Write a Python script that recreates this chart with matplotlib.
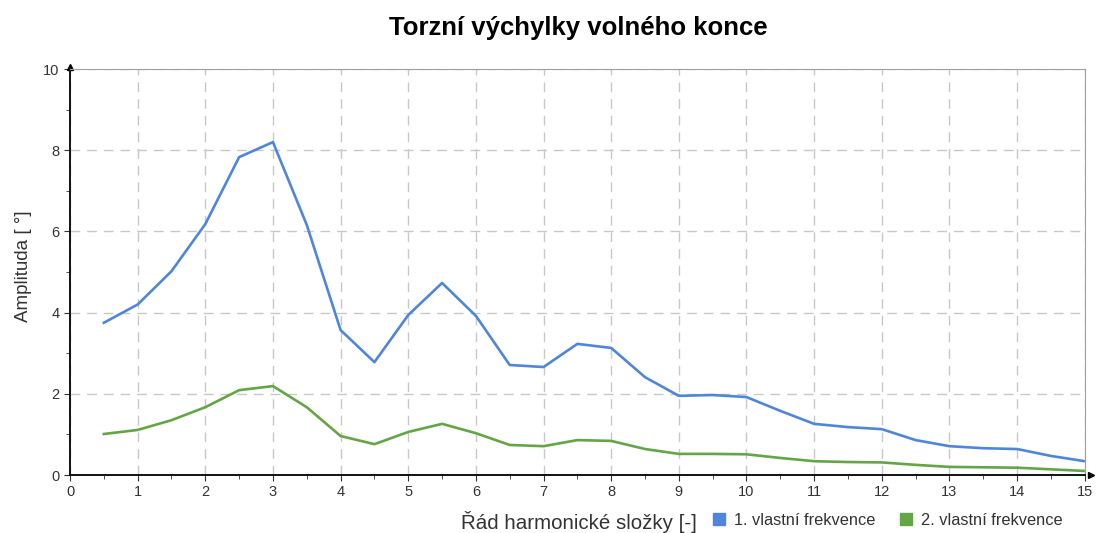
import matplotlib.pyplot as plt
import numpy as np
from matplotlib.lines import Line2D
from matplotlib.ticker import MultipleLocator

plt.rcParams['font.family'] = ['Liberation Sans', 'DejaVu Sans']

# harmonic order and torsional amplitudes of the free end
order = [0.5, 1, 1.5, 2, 2.5, 3, 3.5, 4, 4.5, 5, 5.5, 6, 6.5, 7, 7.5,
         8, 8.5, 9, 9.5, 10, 10.5, 11, 11.5, 12, 12.5, 13, 13.5, 14, 14.5, 15]
freq1 = [3.75, 4.2, 5.02, 6.18, 7.83, 8.2, 6.16, 3.57, 2.78, 3.94, 4.73, 3.92,
         2.71, 2.66, 3.23, 3.13, 2.41, 1.95, 1.97, 1.92, 1.58, 1.26, 1.18, 1.13,
         0.86, 0.71, 0.66, 0.64, 0.47, 0.34]
freq2 = [1.01, 1.11, 1.35, 1.67, 2.09, 2.19, 1.67, 0.96, 0.76, 1.06, 1.26, 1.03,
         0.74, 0.71, 0.86, 0.84, 0.64, 0.52, 0.52, 0.51, 0.42, 0.34, 0.32, 0.31,
         0.25, 0.2, 0.19, 0.18, 0.14, 0.1]
series_names = ['1. vlastní frekvence', '2. vlastní frekvence']
colors = ['#4f86dc', '#64a646']

fig = plt.figure(figsize=(10.99, 5.33), dpi=100)
ax = fig.add_axes([0.0637, 0.1088, 0.9233, 0.7617])

ax.plot(order, freq1, color=colors[0], lw=1.9, zorder=3)
ax.plot(order, freq2, color=colors[1], lw=1.9, zorder=3)

ax.set_xlim(0, 15)
ax.set_ylim(0, 10)
ax.xaxis.set_major_locator(MultipleLocator(1))
ax.xaxis.set_minor_locator(MultipleLocator(0.5))
ax.yaxis.set_major_locator(MultipleLocator(2))
ax.yaxis.set_minor_locator(MultipleLocator(1))
ax.tick_params(which='both', direction='out', color='#333333', labelsize=10.5,
               labelcolor='#333333')
ax.tick_params(which='major', length=4)
ax.tick_params(which='minor', length=3)
ax.tick_params(axis='x', pad=3)

ax.grid(True, which='major', color='#c8c8c8', linestyle=(0, (7, 5)), lw=1)
for s in ['top', 'right']:
    ax.spines[s].set_color('#a0a0a0')
for s in ['left', 'bottom']:
    ax.spines[s].set_color('#111111')
    ax.spines[s].set_linewidth(1.4)

# arrow heads on the axes
ax.plot(0, 1.005, marker='^', color='black', markersize=5,
        transform=ax.transAxes, clip_on=False)
ax.plot(1.006, 0, marker='>', color='black', markersize=5,
        transform=ax.transAxes, clip_on=False)

fig.text(0.526, 0.947, 'Torzní výchylky volného konce', ha='center', va='center',
         fontsize=18.5, fontweight='bold')
fig.text(0.021, 0.50, 'Amplituda [ °]', rotation=90, ha='center', va='center',
         fontsize=13.5, color='#333333')
fig.text(0.5265, 0.021, 'Řád harmonické složky [-]', ha='center', va='center',
         fontsize=14.8, color='#333333')

handles = [Line2D([], [], marker='s', linestyle='none', color=c, markersize=8)
           for c in colors]
fig.legend(handles, series_names, loc='center left', ncol=2,
           bbox_to_anchor=(0.632, 0.024), frameon=False, fontsize=11.8,
           handletextpad=0.3, columnspacing=1.3, handlelength=1.2,
           labelcolor='#333333')

fig.savefig('out.png', dpi=100)
